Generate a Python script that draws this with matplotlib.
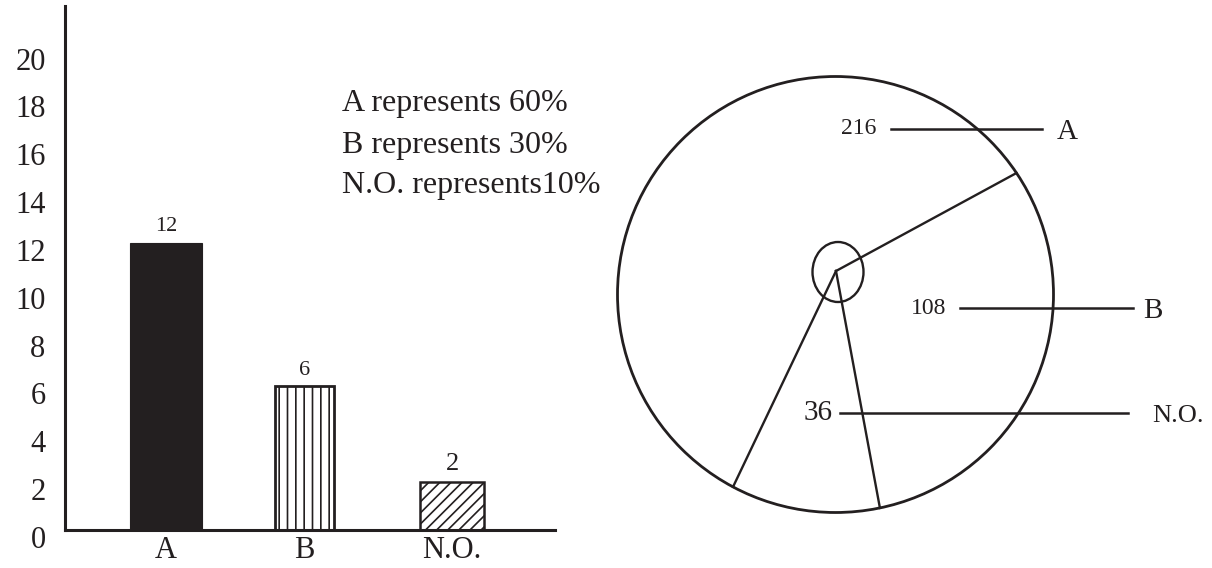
import numpy as np
import matplotlib
matplotlib.use("Agg")
import matplotlib.pyplot as plt
from matplotlib.patches import Circle, Ellipse
from matplotlib.transforms import ScaledTranslation

# данные
categories = ["A", "B", "N.O."]
counts = [12, 6, 2]
degrees = [216, 108, 36]
percent_lines = ["A represents 60%", "B represents 30%", "N.O. represents10%"]
y_ticks = list(range(0, 21, 2))

INK = "#231f20"
plt.rcParams["font.family"] = ["Liberation Serif", "DejaVu Serif"]
plt.rcParams["hatch.linewidth"] = 1.2

W, H = 1212, 568
fig = plt.figure(figsize=(W / 100, H / 100), dpi=100)

# --- столбчатая диаграмма ---
px_per_unit = 23.92
ax = fig.add_axes([65 / W, (H - 530) / H, (555 - 65) / W, 524 / H])
ax.set_ylim(0, 524 / px_per_unit)
ax.set_xlim(-0.706, 2.72)

xs = [0, 0.97, 2.0]
widths = [0.50, 0.41, 0.45]
faces = [INK, "white", "white"]
hatches = [None, "||", "///"]
lws = [0.8, 2.0, 1.8]
for i in range(len(categories)):
    ax.bar(xs[i], counts[i], width=widths[i], color=faces[i], edgecolor=INK,
           hatch=hatches[i], linewidth=lws[i], zorder=2)
    ax.annotate(str(counts[i]), (xs[i], counts[i]), xytext=(0, 5),
                textcoords="offset points", ha="center", va="bottom",
                fontsize=16 if counts[i] > 2 else 19, color=INK)

for s in ["top", "right"]:
    ax.spines[s].set_visible(False)
for s in ["left", "bottom"]:
    ax.spines[s].set_linewidth(2.2)
    ax.spines[s].set_color(INK)

ax.set_yticks(y_ticks)
ax.set_yticklabels([str(v) for v in y_ticks])
ax.tick_params(axis="y", length=0, pad=14, labelsize=22, labelcolor=INK)
shift = ScaledTranslation(0, -7 / 100, fig.dpi_scale_trans)
for lab in ax.get_yticklabels():
    lab.set_transform(lab.get_transform() + shift)

ax.set_xticks(xs)
ax.set_xticklabels(categories)
ax.tick_params(axis="x", length=0, pad=4, labelsize=22, labelcolor=INK)

# --- круговая диаграмма (в пикселях) ---
ov = fig.add_axes([0, 0, 1, 1])
ov.set_xlim(0, W)
ov.set_ylim(H, 0)
ov.axis("off")

for k, line in enumerate(percent_lines):
    ov.text(342, 104 + 41 * k, line, fontsize=23, va="center", ha="left", color=INK)

cx, cy, R = 835.5, 294.5, 218
hub = np.array([836.0, 271.0])
ov.add_patch(Circle((cx, cy), R, fill=False, edgecolor=INK, linewidth=2.0))
ov.add_patch(Ellipse((838, 272), 51, 60, fill=False, edgecolor=INK, linewidth=1.7))

# границы секторов: A, затем N.O., затем B (против часовой)
order = [0, 2, 1]
start = 28.5
bounds = [start]
for j in order:
    bounds.append(bounds[-1] + degrees[j])
for ang in bounds[:-1]:
    t = np.radians(ang)
    d = np.array([np.cos(t), -np.sin(t)])
    f = hub - np.array([cx, cy])
    fd = f @ d
    s = -fd + np.sqrt(fd ** 2 - (f @ f - R ** 2))
    end = hub + s * d
    ov.plot([hub[0], end[0]], [hub[1], end[1]], color=INK, linewidth=1.7)

# подписи с выносками
leaders = [  # (индекс, x числа, y, x0 линии, x1 линии, x буквы, размер числа)
    (0, 876, 129, 891, 1042, 1057, 17),
    (1, 946, 308, 960, 1133, 1143, 17),
    (2, 833, 413, 840, 1128, 1152, 21),
]
for idx, xn, y, x0, x1, xl, fs in leaders:
    ov.text(xn, y, str(degrees[idx]), fontsize=fs, ha="right", va="center", color=INK)
    ov.plot([x0, x1], [y, y], color=INK, linewidth=1.8)
    ov.text(xl, y + 3, categories[idx], fontsize=21 if idx != 2 else 19,
            ha="left", va="center", color=INK)

fig.savefig("out.png", dpi=100, facecolor="white")
